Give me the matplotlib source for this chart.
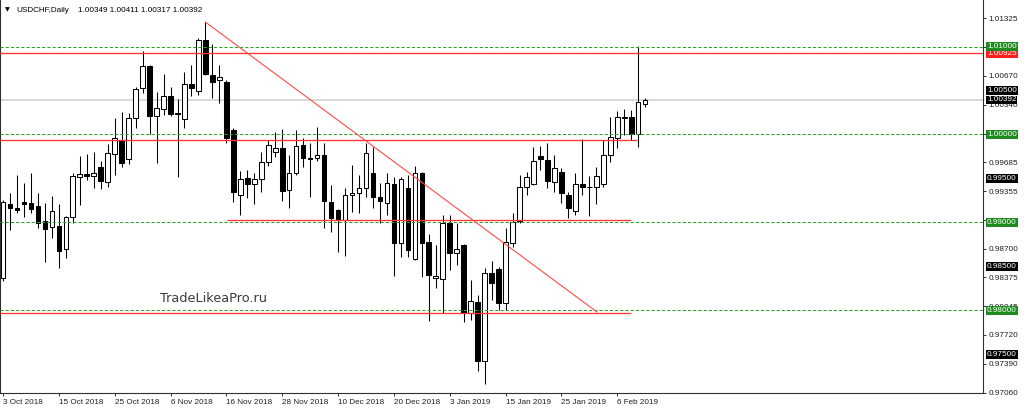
import matplotlib
matplotlib.use('Agg')
import matplotlib.pyplot as plt
import matplotlib.transforms as mtrans
import pandas as pd

# ---------------- data (USDCHF Daily) ----------------
opens = [0.98366,0.99208,0.99162,0.99231,0.99219,0.99185,0.99014,0.98946,0.98958,0.98696,
 0.99060,0.99515,0.99549,0.99527,0.99629,0.99458,0.99777,0.99936,0.99720,1.00187,
 1.00528,1.00779,1.00210,1.00289,1.00437,1.00244,1.00175,1.00574,1.00494,1.01075,
 1.00676,1.00619,1.00597,1.00050,0.99310,0.99504,0.99436,0.99492,0.99686,0.99800,
 0.99845,0.99367,0.99561,0.99879,0.99732,0.99732,0.99766,0.99231,0.99140,0.99026,
 0.99310,0.99333,0.99390,0.99561,0.99288,0.99219,0.99436,0.98764,0.99390,0.98582,
 0.99561,0.98775,0.98366,0.98354,0.98992,0.98650,0.98741,0.97967,0.98093,0.97421,
 0.98423,0.98468,0.98081,0.98764,0.99014,0.99401,0.99436,0.99754,0.99709,0.99458,
 0.99572,0.99310,0.99128,0.99436,0.99407,0.99401,0.99436,0.99766,0.99959,1.00198,
 1.00198,1.00005,1.00349]
highs = [0.99253,0.99333,0.99538,0.99447,0.99561,0.99333,0.99219,0.99299,0.99208,0.99071,
 0.99561,0.99754,0.99777,0.99800,0.99697,0.99891,1.00187,1.00255,1.00244,1.00540,
 1.00949,1.00790,1.00483,1.00688,1.00540,1.00403,1.00710,1.00790,1.01097,1.01279,
 1.01029,1.00790,1.00619,1.00073,0.99584,0.99595,0.99561,0.99800,0.99936,1.00027,
 1.00062,0.99766,1.00050,0.99959,0.99902,1.00084,0.99902,0.99424,0.99151,0.99390,
 0.99652,0.99538,0.99902,0.99857,0.99447,0.99561,0.99515,0.99515,0.99538,0.99640,
 0.99572,0.98866,0.98741,0.99083,0.99083,0.98992,0.98753,0.98343,0.98172,0.98479,
 0.98559,0.98491,0.98935,0.99106,0.99538,0.99572,0.99857,0.99868,0.99902,0.99766,
 0.99618,0.99345,0.99561,0.99948,0.99527,0.99629,0.99936,1.00198,1.00266,1.00289,
 1.00278,1.01006,1.00411]
lows = [0.98332,0.98912,0.99106,0.99060,0.99106,0.98935,0.98548,0.98821,0.98479,0.98593,
 0.98992,0.99197,0.99481,0.99390,0.99379,0.99401,0.99538,0.99629,0.99663,1.00073,
 1.00471,1.00005,0.99675,1.00221,1.00210,0.99515,1.00073,1.00437,1.00449,1.00676,
 1.00414,1.00358,0.99902,0.99231,0.99083,0.99276,0.99208,0.99345,0.99640,0.99743,
 0.99242,0.99162,0.99538,0.99629,0.99288,0.99697,0.98935,0.98889,0.98662,0.98616,
 0.99117,0.99106,0.99288,0.99162,0.98992,0.99083,0.98388,0.98605,0.98605,0.98571,
 0.98377,0.97876,0.98252,0.97967,0.98457,0.98514,0.97865,0.97888,0.97307,0.97159,
 0.98115,0.98001,0.98001,0.98719,0.98992,0.99310,0.99424,0.99595,0.99390,0.99345,
 0.99219,0.99049,0.99083,0.99310,0.99071,0.99208,0.99401,0.99686,0.99845,0.99993,
 0.99936,0.99857,1.00317]
closes = [0.99231,0.99162,0.99145,0.99208,0.99151,0.98992,0.98923,0.99128,0.98673,0.99060,
 0.99527,0.99549,0.99527,0.99561,0.99470,0.99788,0.99959,0.99675,1.00187,1.00517,
 1.00779,1.00210,1.00301,1.00437,1.00232,1.00232,1.00574,1.00528,1.01075,1.00688,
 1.00597,1.00653,0.99959,0.99345,0.99492,0.99436,0.99492,0.99686,0.99879,0.99845,
 0.99356,0.99561,0.99868,0.99732,0.99715,0.99766,0.99242,0.99049,0.99026,0.99310,
 0.99333,0.99390,0.99788,0.99288,0.99242,0.99447,0.98764,0.99492,0.98684,0.99561,
 0.98764,0.98400,0.98388,0.98992,0.98650,0.98696,0.97967,0.98104,0.97421,0.98423,
 0.98309,0.98081,0.98775,0.99003,0.99401,0.99515,0.99697,0.99720,0.99470,0.99618,
 0.99333,0.99162,0.99436,0.99407,0.99401,0.99527,0.99766,0.99971,1.00198,1.00187,
 1.00005,1.00369,1.00392]

holidays = ['2018-12-25', '2019-01-01']
all_days = pd.bdate_range('2018-10-03', '2019-03-01')
dates = [d for d in all_days if d.strftime('%Y-%m-%d') not in holidays][:len(opens)]

y_ticks = [1.01325, 1.00995, 1.00670, 1.00340, 1.00010, 0.99685, 0.99355,
           0.99025, 0.98700, 0.98375, 0.98045, 0.97720, 0.97390, 0.97060]
green_levels = [1.01000, 1.00000, 0.99000, 0.98000]
black_levels = [1.00500, 0.99500, 0.98500, 0.97500]
red_full_level = 1.00925
red_segments = [(-0.5, 90.8, 0.99936), (32.1, 90.0, 0.99030), (-0.5, 90.0, 0.97968)]
trend_x = [29, 85.1]
trend_y = [1.01279, 0.97979]
bid = 1.00392
header_symbol = "USDCHF,Daily"
header_ohlc = "1.00349 1.00411 1.00317 1.00392"
watermark = "TradeLikeaPro.ru"
watermark_pos = (22.5, 0.98138)

# ---------------- figure ----------------
W, H = 1024, 413
fig = plt.figure(figsize=(W / 100, H / 100), dpi=100)
fig.patch.set_facecolor('white')
ax = fig.add_axes([0, 20 / H, 983 / W, 393 / H])
ax.set_facecolor('white')

SMALL = dict(family='Liberation Sans', size=5.9)

ax.set_xlim(-0.43, 140.4)
ax.set_ylim(0.97057, 1.01530)

# bid line
ax.axhline(bid, color='#d8d8d8', lw=1.4, zorder=1)

# candles
xs = list(range(len(opens)))
ax.vlines(xs, lows, highs, color='black', lw=0.75, zorder=2)
for i in xs:
    o, c = opens[i], closes[i]
    bull = c >= o
    ax.bar(i, max(abs(c - o), 0.00002), bottom=min(o, c), width=0.66,
           facecolor='white' if bull else 'black', edgecolor='black',
           linewidth=0.75, zorder=2.2)

# levels
green = '#2aa32a'
red = '#ff3535'
for g in green_levels:
    ax.axhline(g, color=green, lw=0.75, dashes=[3, 2], zorder=3)
ax.axhline(red_full_level, color=red, lw=0.95, zorder=3.2)
for x0, x1, lv in red_segments:
    ax.plot([x0, x1], [lv, lv], color=red, lw=0.95, zorder=3.2, solid_capstyle='butt')
ax.plot(trend_x, trend_y, color='#ff4a4a', lw=0.8, zorder=3.2)

# watermark
ax.text(watermark_pos[0], watermark_pos[1], watermark, family='DejaVu Sans',
        size=9.3, color='#3a3a3a', ha='left', va='center', zorder=4)

# spines
ax.spines['top'].set_visible(False)
for s in ['left', 'right', 'bottom']:
    ax.spines[s].set_color('#303030')
    ax.spines[s].set_linewidth(0.8)

# y axis on right
ax.yaxis.tick_right()
ax.set_yticks(y_ticks)
ax.set_yticklabels([f"{v:.5f}" for v in y_ticks], **SMALL, color='#202020')
ax.tick_params(axis='y', length=2.2, width=0.7, pad=1.5, color='#303030')

# x axis
tick_idx = list(range(0, len(dates), 8))
ax.set_xticks(tick_idx)
ax.set_xticklabels([f"{dates[i].day} {dates[i].strftime('%b %Y')}" for i in tick_idx],
                   ha='left', **SMALL, color='#202020')
ax.tick_params(axis='x', length=2.5, width=0.7, pad=2, color='#303030')

# price labels on the right scale
trans = mtrans.blended_transform_factory(fig.transFigure, ax.transData)
def price_box(v, fc, z):
    ax.text(987 / W, v, f"{v:.5f}", transform=trans, ha='left', va='center',
            color='white', zorder=z, clip_on=False, **SMALL,
            bbox=dict(boxstyle='square,pad=0.12', fc=fc, ec='none'))

price_box(red_full_level, '#ff2020', 5)
for g in green_levels:
    price_box(g, '#1f8a1f', 6)
for b in black_levels:
    price_box(b, 'black', 6)
price_box(bid, 'black', 7)

# header
fig.text(5 / W, 1 - 10 / H, "\u25BC", family='DejaVu Sans', size=4.5, color='black',
         ha='left', va='center')
fig.text(16 / W, 1 - 10 / H, header_symbol, color='black', ha='left', va='center', **SMALL)
fig.text(78 / W, 1 - 10 / H, header_ohlc, color='black', ha='left', va='center', **SMALL)

fig.savefig('out.png', dpi=100, facecolor='white')
